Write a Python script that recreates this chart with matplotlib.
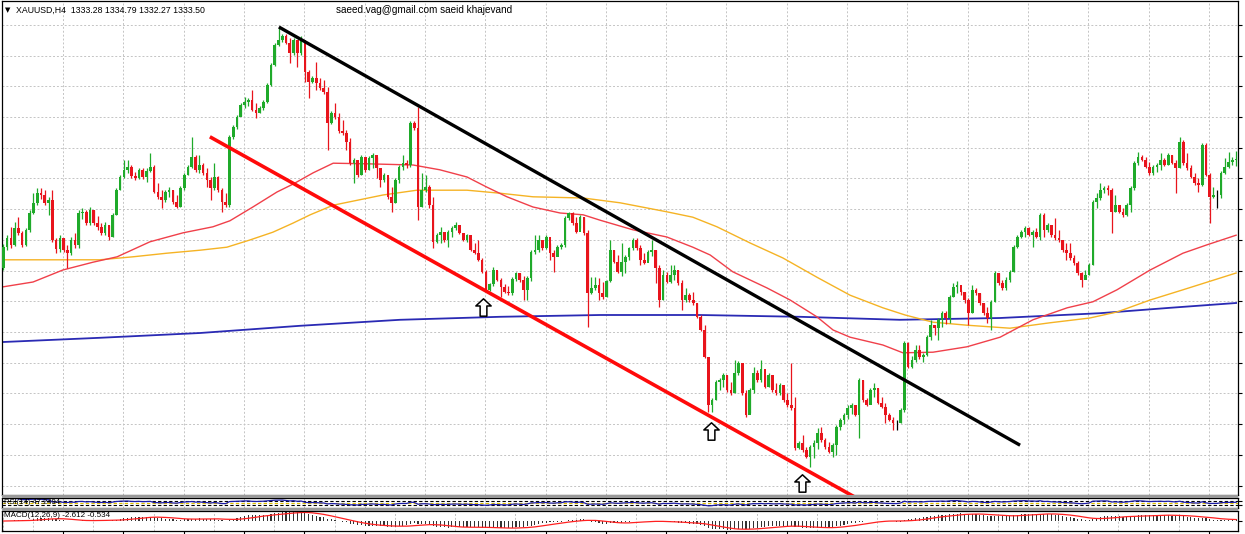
import numpy as np
import pandas as pd
import matplotlib
matplotlib.use("Agg")
import matplotlib.pyplot as plt
from matplotlib.patches import Rectangle
from matplotlib.path import Path

# XAUUSD H4 candles (open of each bar = previous close)
first_open = 1315.3
closes = [
    1318.8, 1320.3, 1319.2, 1322.0, 1321.2, 1319.2, 1321.7, 1324.5, 1326.2, 1327.8,
    1327.5, 1326.2, 1326.7, 1320.0, 1318.5, 1320.3, 1318.3, 1317.8, 1320.0, 1319.2,
    1324.5, 1324.7, 1322.8, 1325.0, 1322.8, 1322.2, 1321.2, 1322.5, 1320.5, 1324.2,
    1328.3, 1330.5, 1331.7, 1332.2, 1330.7, 1330.3, 1331.7, 1330.5, 1331.5, 1332.2,
    1328.0, 1327.2, 1326.7, 1328.0, 1328.3, 1326.3, 1325.5, 1328.7, 1330.8, 1332.2,
    1333.8, 1331.7, 1332.5, 1331.2, 1330.0, 1328.7, 1330.5, 1328.3, 1326.3, 1325.8,
    1337.2, 1338.8, 1340.5, 1342.5, 1343.0, 1343.3, 1341.7, 1341.2, 1342.0, 1343.0,
    1345.8, 1349.2, 1352.5, 1353.3, 1354.0, 1352.8, 1351.2, 1353.3, 1351.2, 1353.3,
    1348.0, 1346.3, 1347.0, 1346.2, 1345.3, 1344.7, 1339.5, 1341.2, 1340.5, 1338.2,
    1337.8, 1336.3, 1332.8, 1333.3, 1330.8, 1333.8, 1331.7, 1333.7, 1334.2, 1332.0,
    1330.0, 1330.8, 1327.2, 1326.2, 1330.0,
    1332.2, 1332.8, 1332.5, 1339.5, 1338.7, 1325.5, 1328.3, 1328.8, 1325.8,
    1319.7, 1320.8, 1321.3, 1320.0, 1321.3, 1322.0, 1322.5, 1321.2,
    1320.0, 1320.8, 1318.3, 1317.8, 1316.7, 1314.7, 1311.7, 1312.7, 1315.0,
    1313.3, 1312.2, 1311.3, 1311.2, 1313.5, 1314.5, 1313.3, 1311.7, 1313.7,
    1318.0, 1318.3, 1320.0, 1318.7, 1320.5, 1317.8, 1317.2, 1318.8,
    1319.2, 1323.7, 1324.5, 1322.8, 1321.3, 1323.8, 1321.2, 1311.2, 1312.0,
    1312.5, 1311.2, 1310.5, 1313.2, 1318.3, 1316.3, 1314.7, 1316.3, 1317.2,
    1318.7, 1320.0, 1318.7, 1316.7, 1316.2, 1318.0, 1318.3, 1315.3, 1310.0,
    1314.2, 1313.0, 1314.2, 1315.0, 1312.8, 1310.0, 1310.8, 1310.0, 1309.5,
    1307.2, 1305.0, 1300.5, 1292.5, 1293.3, 1296.3, 1296.7, 1297.5, 1295.0,
    1294.5, 1297.8, 1299.5, 1294.5, 1290.8, 1295.0, 1297.8, 1296.7, 1298.5,
    1295.5, 1297.5, 1295.0, 1294.5, 1295.8, 1293.3, 1292.5, 1292.0, 1285.3,
    1286.2, 1285.0, 1283.8, 1285.5, 1286.2, 1287.8, 1286.7, 1285.5,
    1284.7, 1285.8, 1288.8, 1290.0, 1290.8, 1292.0, 1292.5, 1290.8, 1296.7, 1293.3,
    1292.5, 1295.0, 1295.3, 1292.8, 1292.2, 1290.8, 1290.0, 1289.5, 1289.5,
    1291.7, 1302.8, 1298.8, 1300.0, 1301.7, 1300.5, 1300.8, 1303.8, 1305.8,
    1305.3, 1306.7, 1307.8, 1307.0, 1310.5, 1312.2, 1312.5, 1311.3, 1310.0, 1307.8,
    1311.7, 1311.2, 1309.5, 1307.8, 1307.0, 1309.7, 1314.5, 1312.8, 1312.0,
    1313.3, 1314.7, 1318.8, 1320.5, 1321.3, 1322.0, 1320.8, 1321.3, 1320.5, 1324.2,
    1321.7, 1322.5, 1320.8, 1320.3, 1320.0, 1318.3, 1317.8, 1317.0, 1316.2,
    1314.5, 1313.3, 1314.2, 1315.8, 1326.3, 1327.0, 1328.3, 1328.7, 1328.3, 1324.7,
    1325.8, 1324.7, 1324.2, 1325.8, 1328.7, 1332.8, 1333.8, 1333.3, 1332.2, 1331.2,
    1332.2, 1332.5, 1333.3, 1332.5, 1334.2, 1332.8, 1332.0, 1336.3, 1332.8, 1332.0,
    1330.5, 1329.5, 1329.2, 1335.8, 1330.8, 1327.2, 1327.5, 1327.5, 1331.2, 1332.2,
    1333.0, 1333.3, 1333.5,
]
highs = [
    1319.3, 1320.8, 1322.2, 1323.0, 1323.8, 1321.5, 1322.0, 1325.0, 1327.8, 1328.7,
    1328.7, 1328.3, 1327.2, 1328.3, 1320.3, 1320.8, 1320.3, 1319.2, 1320.5, 1321.2,
    1325.0, 1325.3, 1325.0, 1325.5, 1325.0, 1324.0, 1322.8, 1323.0, 1322.5, 1324.5,
    1328.7, 1330.8, 1333.3, 1333.3, 1332.5, 1331.3, 1332.0, 1332.0, 1332.0, 1334.5,
    1332.5, 1329.5, 1328.3, 1328.3, 1328.8, 1328.3, 1327.5, 1329.0, 1331.2, 1332.5,
    1337.2, 1334.2, 1334.2, 1332.8, 1332.0, 1330.5, 1332.8, 1330.7, 1328.7, 1327.8,
    1337.5, 1339.2, 1340.8, 1342.8, 1343.8, 1343.7, 1345.0, 1342.8, 1342.3, 1343.3,
    1346.2, 1349.5, 1352.8, 1355.5, 1354.3, 1354.3, 1353.7, 1353.7, 1353.3, 1354.0,
    1352.0, 1348.3, 1347.3, 1349.7, 1347.0, 1346.7, 1345.5, 1341.5, 1342.8, 1341.2,
    1340.0, 1338.3, 1337.0, 1333.7, 1332.8, 1334.2, 1333.8, 1334.0, 1334.5, 1333.8,
    1332.0, 1331.2, 1330.5, 1328.8, 1330.3,
    1332.5, 1334.2, 1333.3, 1339.8, 1339.8, 1342.2, 1331.2, 1330.8, 1329.2,
    1327.2, 1321.2, 1322.2, 1320.8, 1321.7, 1322.3, 1323.0, 1322.5,
    1321.0, 1321.0, 1320.2, 1319.5, 1320.0, 1317.0, 1315.0, 1312.8, 1315.5,
    1314.8, 1313.7, 1312.7, 1312.3, 1313.8, 1314.7, 1314.5, 1314.0, 1314.0,
    1318.3, 1320.8, 1320.8, 1320.0, 1320.8, 1319.5, 1318.3, 1319.2,
    1319.5, 1324.0, 1324.7, 1324.7, 1323.8, 1324.2, 1323.8, 1321.7, 1313.8,
    1313.8, 1313.7, 1313.0, 1313.3, 1320.0, 1318.3, 1317.5, 1319.5, 1317.5,
    1318.8, 1320.3, 1320.3, 1319.2, 1317.8, 1318.3, 1320.0, 1318.3, 1315.8,
    1315.0, 1314.7, 1315.8, 1315.8, 1315.0, 1313.3, 1312.0, 1311.2, 1311.3,
    1309.5, 1307.5, 1305.8, 1300.5, 1293.7, 1296.7, 1297.0, 1297.8, 1297.5,
    1296.3, 1300.0, 1299.8, 1299.5, 1295.0, 1295.3, 1298.8, 1298.3, 1300.0,
    1297.5, 1297.8, 1297.0, 1296.2, 1296.2, 1295.3, 1294.5, 1299.5, 1293.8,
    1286.5, 1287.5, 1285.5, 1285.8, 1286.7, 1288.7, 1288.8, 1287.0,
    1286.3, 1286.2, 1289.2, 1290.3, 1291.2, 1292.5, 1292.8, 1292.5, 1297.0, 1296.7,
    1293.7, 1295.3, 1296.2, 1295.3, 1293.8, 1292.8, 1291.2, 1290.5, 1290.0,
    1292.0, 1303.2, 1303.0, 1300.7, 1302.5, 1302.5, 1301.2, 1304.2, 1306.7,
    1305.8, 1307.0, 1308.2, 1308.2, 1310.8, 1312.8, 1313.2, 1311.7, 1311.3, 1310.3,
    1312.5, 1312.0, 1311.2, 1309.5, 1308.8, 1310.0, 1314.8, 1314.5, 1313.3,
    1313.8, 1315.0, 1319.2, 1320.8, 1321.7, 1322.3, 1322.2, 1321.7, 1322.0, 1324.5,
    1324.5, 1322.8, 1322.5, 1323.7, 1321.7, 1320.0, 1319.5, 1319.5, 1317.5,
    1316.5, 1314.7, 1315.0, 1316.2, 1326.7, 1327.8, 1329.5, 1329.0, 1329.2, 1328.7,
    1327.5, 1325.8, 1325.3, 1326.2, 1329.0, 1333.2, 1334.7, 1334.2, 1333.8, 1333.0,
    1332.5, 1332.8, 1334.5, 1333.7, 1334.5, 1334.2, 1333.3, 1337.2, 1336.7, 1334.5,
    1332.5, 1331.2, 1330.3, 1336.2, 1336.2, 1331.2, 1328.8, 1328.3, 1331.5, 1333.7,
    1334.7, 1333.8, 1334.8,
]
lows = [
    1315.0, 1318.3, 1318.7, 1319.0, 1320.8, 1318.8, 1319.0, 1321.3, 1324.3, 1325.8,
    1326.8, 1325.8, 1324.2, 1319.7, 1317.8, 1318.0, 1318.0, 1315.3, 1317.5, 1318.7,
    1318.7, 1323.5, 1322.5, 1322.5, 1322.5, 1321.7, 1320.8, 1320.8, 1320.0, 1320.5,
    1324.2, 1328.3, 1330.3, 1331.2, 1330.3, 1330.0, 1330.2, 1330.2, 1329.7, 1331.3,
    1327.8, 1326.8, 1325.3, 1326.3, 1327.2, 1326.0, 1325.3, 1325.5, 1328.3, 1330.8,
    1332.0, 1331.3, 1331.2, 1330.8, 1328.8, 1326.7, 1328.3, 1328.0, 1324.7, 1325.5,
    1325.5, 1336.8, 1338.5, 1340.7, 1342.0, 1342.3, 1341.5, 1340.3, 1341.2, 1341.7,
    1342.8, 1345.7, 1349.0, 1352.3, 1353.0, 1352.7, 1349.5, 1350.8, 1348.8, 1350.8,
    1346.3, 1343.7, 1346.2, 1345.0, 1345.0, 1344.3, 1335.0, 1339.3, 1340.2, 1337.8,
    1337.5, 1335.0, 1332.5, 1329.5, 1330.5, 1330.8, 1331.3, 1331.7, 1332.0, 1330.3,
    1328.8, 1329.7, 1326.8, 1324.7, 1326.2,
    1329.5, 1331.7, 1332.0, 1332.2, 1338.3, 1323.3, 1325.5, 1328.0, 1325.3,
    1318.7, 1319.5, 1319.5, 1319.7, 1318.8, 1320.5, 1321.7, 1321.0,
    1319.8, 1319.7, 1318.2, 1317.7, 1316.5, 1314.5, 1311.8, 1311.5, 1312.3,
    1313.2, 1310.5, 1311.2, 1310.8, 1310.8, 1313.2, 1313.0, 1310.0, 1310.0,
    1313.2, 1317.7, 1318.0, 1318.3, 1318.5, 1316.7, 1314.7, 1317.5,
    1318.5, 1318.8, 1323.3, 1322.5, 1321.2, 1322.0, 1320.8, 1305.5, 1311.0,
    1311.7, 1310.0, 1310.2, 1310.5, 1313.0, 1316.2, 1314.5, 1314.0, 1314.5,
    1316.7, 1318.3, 1318.3, 1315.8, 1316.0, 1316.7, 1317.3, 1312.8, 1308.8,
    1310.0, 1312.8, 1312.8, 1313.3, 1312.5, 1308.3, 1309.7, 1309.7, 1309.2,
    1307.0, 1304.8, 1300.3, 1291.3, 1291.3, 1293.3, 1295.0, 1295.5, 1294.7,
    1294.2, 1294.5, 1297.5, 1294.2, 1290.5, 1291.2, 1294.5, 1296.3, 1296.3,
    1295.3, 1295.5, 1294.7, 1294.2, 1294.2, 1293.0, 1292.2, 1291.7, 1285.0,
    1285.2, 1284.7, 1283.7, 1282.2, 1283.7, 1285.2, 1286.3, 1285.2,
    1284.5, 1283.8, 1284.2, 1288.3, 1289.3, 1290.2, 1291.0, 1290.7, 1287.0, 1293.0,
    1292.3, 1292.7, 1293.8, 1292.7, 1292.0, 1289.5, 1289.8, 1288.3, 1288.3,
    1289.5, 1291.3, 1298.7, 1298.7, 1299.7, 1300.2, 1299.7, 1300.7, 1303.3,
    1304.2, 1303.3, 1305.5, 1306.0, 1306.2, 1310.5, 1311.2, 1310.8, 1309.5, 1305.8,
    1307.8, 1310.8, 1309.2, 1307.5, 1306.2, 1305.0, 1309.7, 1312.5, 1311.7,
    1311.7, 1313.0, 1314.7, 1318.7, 1320.3, 1320.5, 1320.7, 1318.8, 1320.3, 1320.0,
    1320.5, 1321.3, 1320.5, 1320.0, 1319.7, 1318.0, 1316.7, 1316.7, 1315.8,
    1314.2, 1312.2, 1313.7, 1314.2, 1315.8, 1325.3, 1326.7, 1327.8, 1327.5, 1321.2,
    1324.7, 1324.5, 1323.8, 1324.0, 1324.7, 1328.3, 1332.5, 1333.2, 1332.0, 1330.8,
    1330.8, 1331.3, 1331.7, 1332.3, 1332.5, 1332.7, 1327.8, 1332.0, 1332.5, 1331.7,
    1330.3, 1329.2, 1328.0, 1329.0, 1330.7, 1322.8, 1327.0, 1325.3, 1327.0, 1331.0,
    1332.0, 1332.5, 1332.3,
]

# moving averages as drawn on the chart (bar index, price)
ma_red_bar = [0, 7.9, 15.8, 23.8, 30.2, 38.9, 47.7, 55.6, 60.1, 66.2, 72.6, 76.8, 82.2,
              87.5, 96.5, 108.7, 115.8, 123.0, 128.3, 133.6, 140.5, 147.7, 153.8, 158.3,
              167.0, 176.0, 182.9, 187.5, 193.5, 202.6, 208.7, 215.8, 220.1, 224.6, 233.3,
              238.6, 246.6, 255.6, 264.4, 273.1, 282.2, 289.0, 295.4, 304.2, 312.9, 319.3,
              327]
ma_red_val = [1312.2, 1313.0, 1315.0, 1316.3, 1317.2, 1319.7, 1321.2, 1322.2, 1323.2, 1325.5,
              1328.0, 1329.3, 1331.2, 1332.8, 1332.7, 1332.5, 1331.7, 1330.5, 1328.8, 1327.2,
              1325.5, 1324.5, 1324.2, 1323.3, 1321.7, 1320.5, 1318.8, 1317.5, 1314.7, 1312.0,
              1310.0, 1307.2, 1305.0, 1303.8, 1302.5, 1301.2, 1301.3, 1302.2, 1303.8, 1306.7,
              1308.7, 1309.7, 1311.7, 1315.0, 1317.8, 1319.2, 1320.8]
ma_orange_bar = [0, 16.9, 25.6, 34.4, 43.4, 52.2, 59.3, 65.4, 71.5, 76.8, 81.4, 87.5, 100.7,
                 109.7, 123.0, 131.7, 140.5, 153.8, 163.6, 176.0, 182.9, 189.3, 198.1, 206.8,
                 215.8, 224.6, 233.3, 239.2, 246.6, 255.6, 267.0, 277.6, 288.2, 295.4, 304.2,
                 312.9, 327]
ma_orange_val = [1316.7, 1316.7, 1316.7, 1317.2, 1317.8, 1318.3, 1318.8, 1320.0, 1321.3, 1322.8,
                 1324.2, 1325.8, 1327.5, 1328.3, 1328.3, 1327.8, 1327.2, 1327.0, 1326.2, 1324.7,
                 1323.8, 1322.2, 1319.5, 1317.0, 1313.8, 1310.8, 1308.7, 1307.5, 1306.3, 1305.8,
                 1305.3, 1306.2, 1307.0, 1308.0, 1310.0, 1311.7, 1314.5]
ma_blue_bar = [0, 25.6, 52.2, 78.7, 105.2, 131.7, 158.3, 184.8, 211.3, 237.8, 264.4, 290.9,
               309.5, 327]
ma_blue_val = [1303.0, 1303.7, 1304.5, 1305.7, 1306.7, 1307.2, 1307.5, 1307.5, 1307.2, 1306.7,
               1307.0, 1307.8, 1308.7, 1309.5]

# hand drawn objects
black_line_bar = [73.1, 269.7]
black_line_val = [1355.5, 1285.8]
red_line_bar = [54.8, 226]
red_line_val = [1337.2, 1277.1]
arrow_bar = [127.2, 187.7, 211.9]
arrow_val = [1308.9, 1288.1, 1279.5]

header = "XAUUSD,H4  1333.28 1334.79 1332.27 1333.50"
credit = "saeed.vag@gmail.com saeid khajevand"
macd_label = "MACD(12,26,9) -2.612 -0.534"
rsi_label = "RSI(14) 47.2494"

n = len(closes)
x = np.arange(n)
c = np.array(closes)
o = np.concatenate([[first_open], c[:-1]])
hi = np.array(highs)
lo = np.array(lows)

UP = "#1faa2a"
DN = "#e8141c"

W, H = 1245, 534
fig = plt.figure(figsize=(W / 100, H / 100), dpi=100)
fig.patch.set_facecolor("white")

def frac(top_px, bot_px):
    return [2 / W, 1 - bot_px / H, (1238 - 2) / W, (bot_px - top_px) / H]

ax = fig.add_axes(frac(1, 495))
ax_rsi = fig.add_axes(frac(498, 508), sharex=ax)
ax_macd = fig.add_axes(frac(510.5, 531), sharex=ax)

xl = (-0.34, n - 0.5)
px_per_bar = (1238 - 2) / (xl[1] - xl[0])
vgrid = np.arange(xl[0] + 0.9 / px_per_bar, xl[1], 30.15 / px_per_bar)
hgrid = 1360 - (25 + 30.7 * np.arange(16)) / 6.0

for a in (ax, ax_rsi, ax_macd):
    a.set_facecolor("white")
    for s in a.spines.values():
        s.set_color("black")
        s.set_linewidth(0.9)
    a.set_xticks(vgrid)
    a.grid(True, axis="x", color="#c4c4c4", linestyle=(0, (2, 2)), linewidth=0.7)
    a.tick_params(axis="both", which="both", labelbottom=False, labelleft=False,
                  labelright=False, left=False, bottom=False, right=True,
                  direction="out", length=3, width=0.8, color="black")
    a.set_axisbelow(True)

# main candle chart
ax.set_yticks(hgrid)
ax.grid(True, axis="y", color="#c4c4c4", linestyle=(0, (2, 2)), linewidth=0.7)
ax.set_xlim(*xl)
ax.set_ylim(1360 - 495 / 6.0, 1360 - 1 / 6.0)

ax.plot(ma_blue_bar, ma_blue_val, color="#2a2ab4", lw=1.3, zorder=2)
ax.plot(ma_orange_bar, ma_orange_val, color="#f5b324", lw=1.0, zorder=2)
ax.plot(ma_red_bar, ma_red_val, color="#f0404a", lw=1.0, zorder=2)

up = c > o
dn = c < o
eq = c == o
cols = np.where(up, UP, np.where(dn, DN, "black"))
ax.vlines(x, lo, hi, colors=cols, linewidth=0.9, zorder=3)
body = np.where(eq, 0.12, np.abs(c - o))
bottom = np.where(eq, c - 0.06, np.minimum(o, c))
ax.bar(x, body, bottom=bottom, width=0.7, color=cols, linewidth=0, zorder=4)

ax.plot(black_line_bar, black_line_val, color="black", lw=2.4, zorder=5,
        solid_capstyle="butt")
ax.plot(red_line_bar, red_line_val, color="#ff0a0a", lw=2.6, zorder=5,
        solid_capstyle="butt")

arrow_path = Path([(0, 8.5), (7.5, 1.5), (3.3, 1.5), (3.3, -8.5), (-3.3, -8.5),
                   (-3.3, 1.5), (-7.5, 1.5), (0, 8.5)],
                  [Path.MOVETO] + [Path.LINETO] * 6 + [Path.CLOSEPOLY])
ax.plot(arrow_bar, arrow_val, linestyle="none", marker=arrow_path, markersize=12.5,
        markerfacecolor="white", markeredgecolor="black", markeredgewidth=1.1, zorder=6)

# RSI window
s = pd.Series(c)
delta = s.diff()
gain = delta.clip(lower=0).ewm(alpha=1 / 14, adjust=False).mean()
loss = (-delta.clip(upper=0)).ewm(alpha=1 / 14, adjust=False).mean()
rsi = 100 - 100 / (1 + gain / loss)
ax_rsi.set_ylim(0, 100)
ax_rsi.set_yticks([30, 70])
ax_rsi.axhline(70, color="black", lw=0.8, linestyle=(0, (3, 2)))
ax_rsi.axhline(30, color="black", lw=0.8, linestyle=(0, (3, 2)))
ax_rsi.axhline(50, color="#e0c000", lw=0.8, linestyle=(0, (3, 2)))
ax_rsi.plot(x, rsi, color="#1c1ca8", lw=0.9)
ax_rsi.text(0.002, 0.5, rsi_label, transform=ax_rsi.transAxes, fontsize=5.5,
            family="Liberation Sans", va="center", ha="left", color="black")

# MACD window
ema12 = s.ewm(span=12, adjust=False).mean()
ema26 = s.ewm(span=26, adjust=False).mean()
macd = ema12 - ema26
signal = macd.rolling(9, min_periods=1).mean()
ax_macd.bar(x, macd, width=0.3, color="#333333", linewidth=0)
ax_macd.plot(x, signal, color="#ff2020", lw=0.9)
top = max(macd.max(), signal.max()) * 1.15
bot = min(macd.min(), signal.min()) * 1.15
ax_macd.set_ylim(bot, top)
ax_macd.set_yticks([0])
ax_macd.tick_params(axis="x", bottom=True, length=3)
ax_macd.set_xticks(vgrid[2::2], minor=False)
ax_macd.set_xticks(vgrid, minor=True)
ax_macd.grid(True, axis="x", which="minor", color="#c4c4c4", linestyle=(0, (2, 2)), linewidth=0.7)
ax_macd.grid(False, axis="x", which="major")
ax_macd.text(0.002, 0.78, macd_label, transform=ax_macd.transAxes, fontsize=5.8,
             family="Liberation Sans", va="center", ha="left", color="black")

# window separators
for t, b in ((495, 498), (508, 510.5)):
    fig.add_artist(Rectangle((2 / W, 1 - b / H), (1238 - 2) / W, (b - t) / H,
                             transform=fig.transFigure, facecolor="#9a9a9a",
                             edgecolor="none", zorder=10))

fig.text(5 / W, 1 - 10 / H, "\u25bc", fontsize=5, family="DejaVu Sans",
         va="center", ha="left")
fig.text(16 / W, 1 - 10 / H, header, fontsize=6.3, family="Liberation Sans",
         va="center", ha="left")
fig.text(336 / W, 1 - 10 / H, credit, fontsize=7.2, family="Liberation Sans",
         va="center", ha="left")

fig.savefig("out.png", dpi=100, facecolor="white")
